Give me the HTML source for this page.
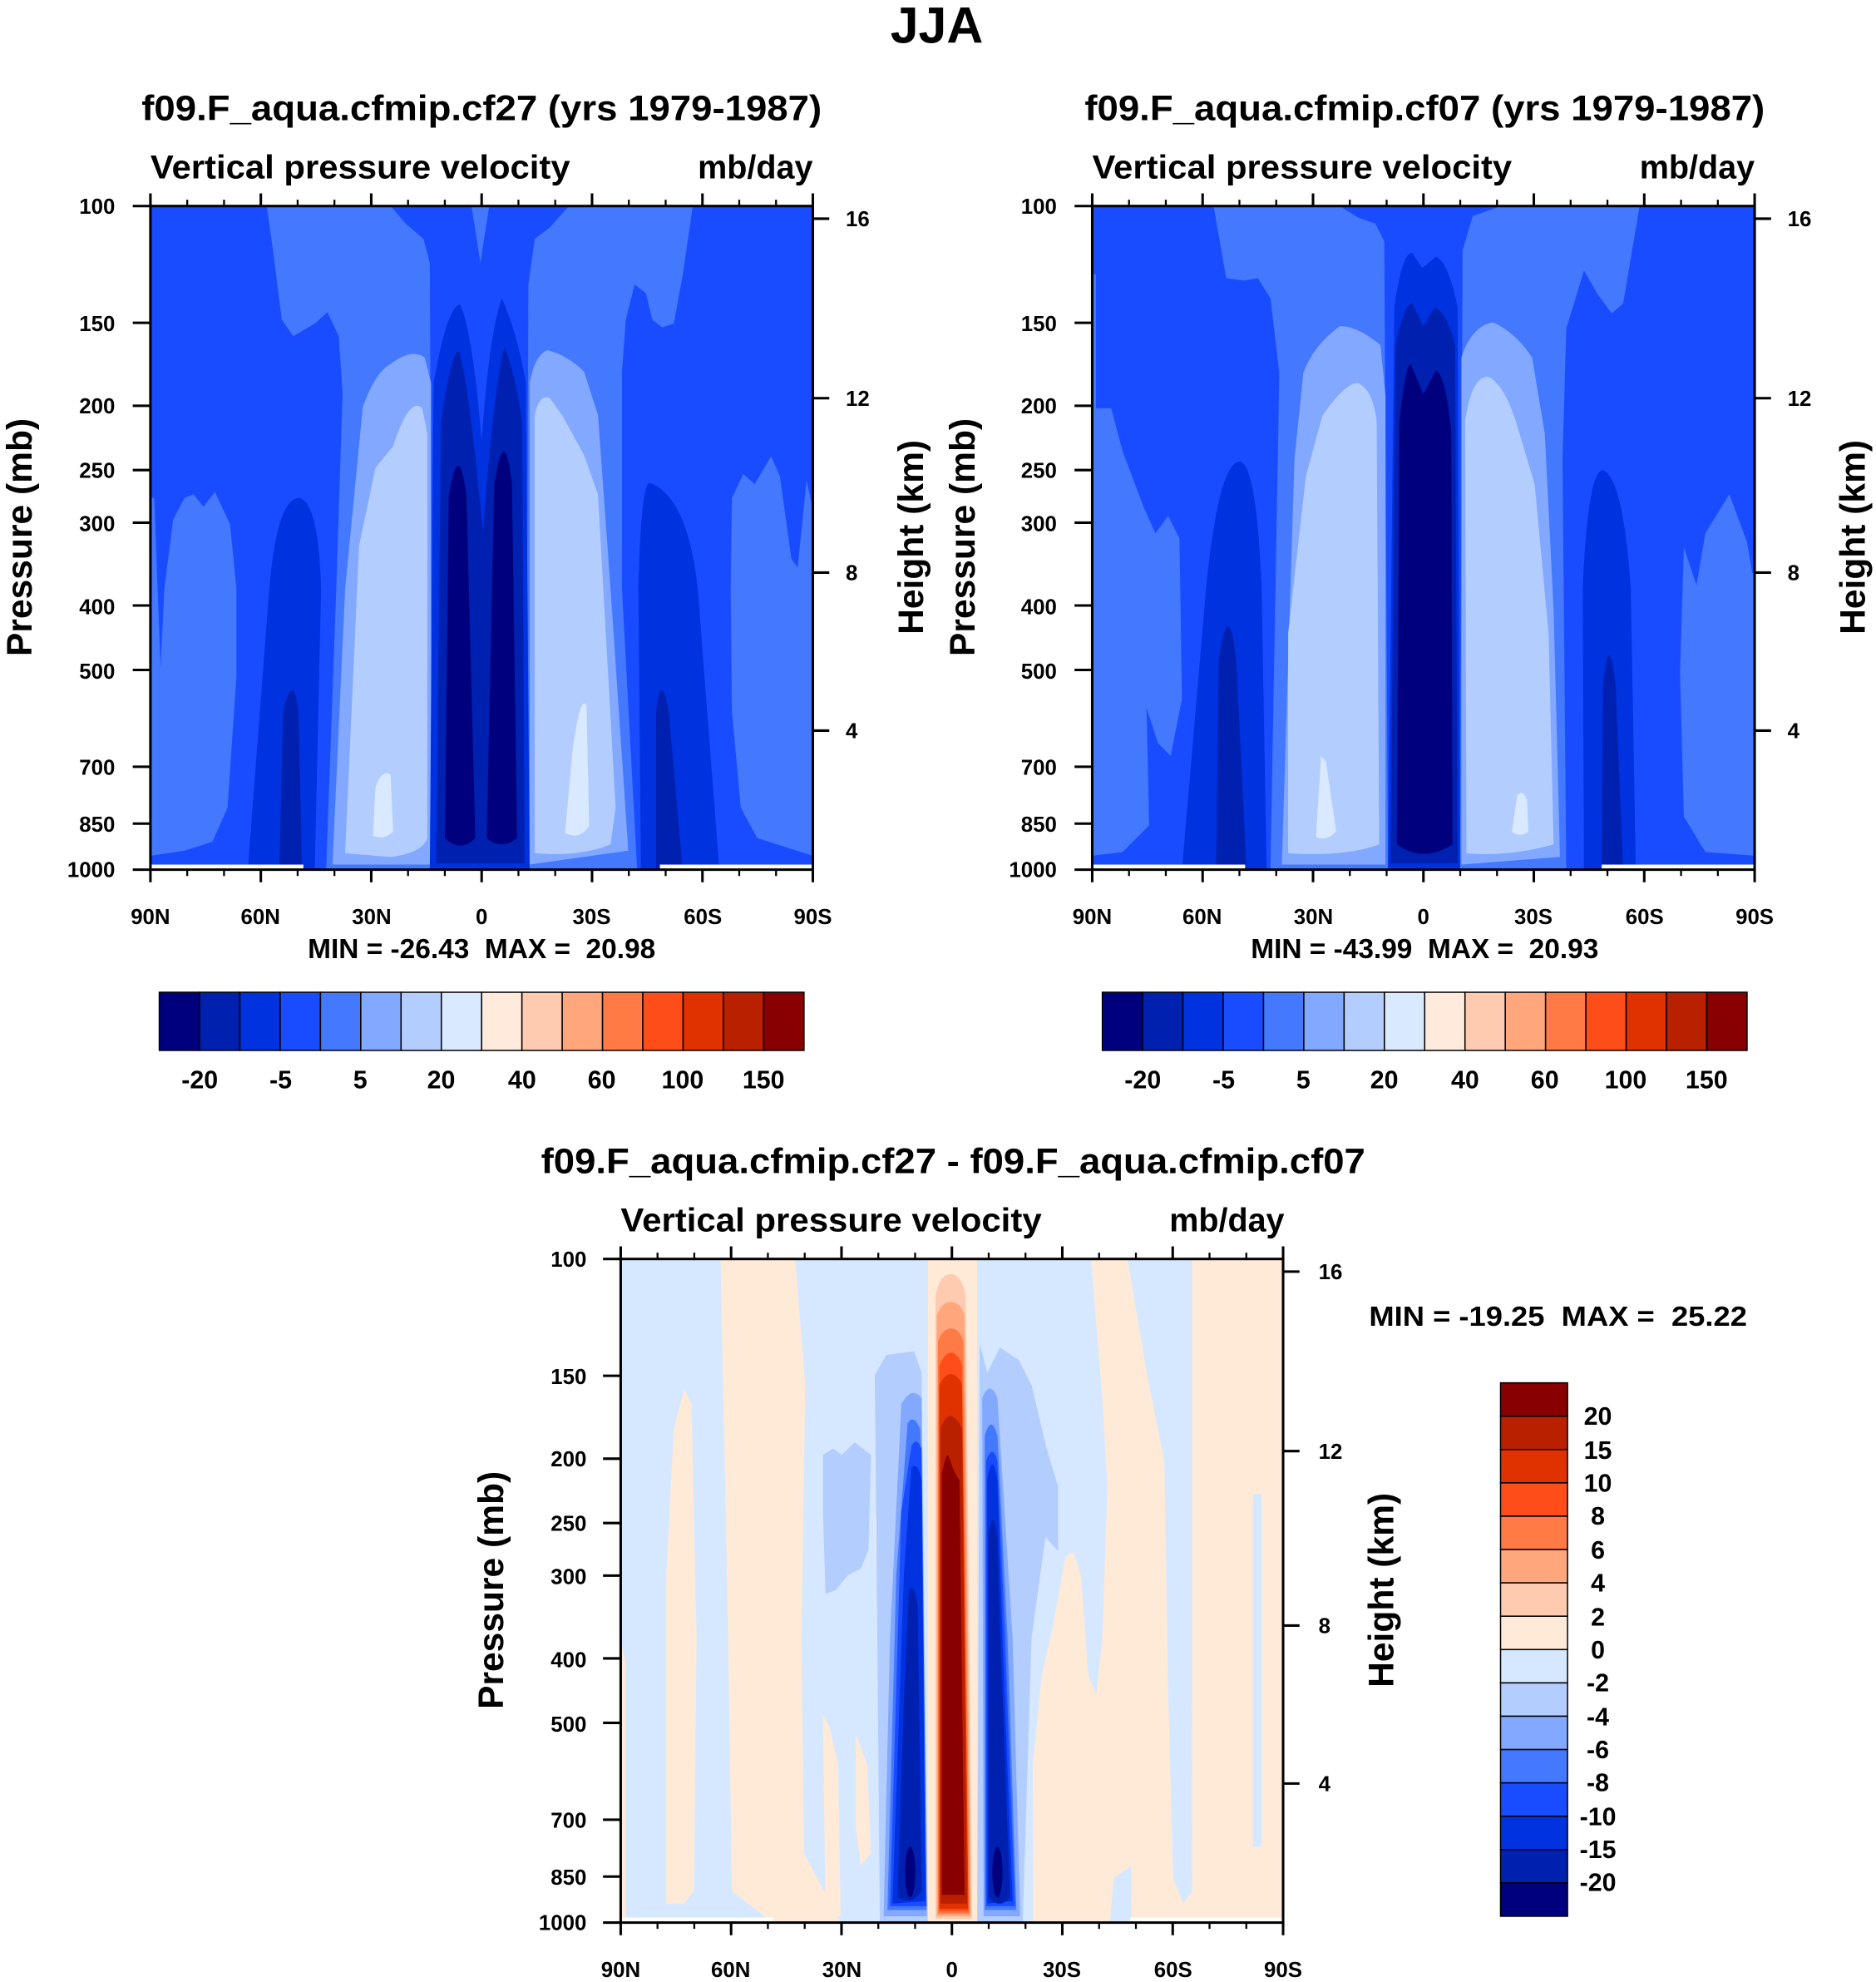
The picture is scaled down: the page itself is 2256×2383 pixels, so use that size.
<!DOCTYPE html>
<html><head><meta charset="utf-8"><style>
html,body{margin:0;padding:0;background:#fff;}
svg{display:block;}
text{font-family:"Liberation Sans",Arial,sans-serif;font-weight:bold;fill:#000;}
</style></head><body>
<svg width="2256" height="2383" viewBox="0 0 1484 1568" preserveAspectRatio="none" xmlns="http://www.w3.org/2000/svg">
<defs>
<clipPath id="cp"><rect x="0" y="0" width="524" height="525"/></clipPath>
<g id="ax" fill="none" stroke="#000">
<rect x="0" y="0" width="524" height="525" stroke-width="2"/>
<path stroke-width="2" d="M0 0V-10M87.33 0V-10M174.67 0V-10M262 0V-10M349.33 0V-10M436.67 0V-10M524 0V-10M0 525V535M87.33 525V535M174.67 525V535M262 525V535M349.33 525V535M436.67 525V535M524 525V535"/>
<path stroke-width="1.5" d="M29.11 0V-5M58.22 0V-5M116.44 0V-5M145.56 0V-5M203.78 0V-5M232.89 0V-5M291.11 0V-5M320.22 0V-5M378.44 0V-5M407.56 0V-5M465.78 0V-5M494.89 0V-5M29.11 525V530M58.22 525V530M116.44 525V530M145.56 525V530M203.78 525V530M232.89 525V530M291.11 525V530M320.22 525V530M378.44 525V530M407.56 525V530M465.78 525V530M494.89 525V530"/>
<path stroke-width="2" d="M-14 0H0M-14 92.4H0M-14 158H0M-14 208.9H0M-14 250.5H0M-14 316H0M-14 367H0M-14 443.6H0M-14 488.6H0M-14 525H0M524 10H537M524 152H537M524 290H537M524 415H537"/>
</g>
</defs>

<text x="741" y="34" font-size="40" text-anchor="middle">JJA</text>

<!-- ============ PANEL 1 ============ -->
<text x="381" y="95" font-size="28" text-anchor="middle" textLength="538" lengthAdjust="spacingAndGlyphs">f09.F_aqua.cfmip.cf27 (yrs 1979-1987)</text>
<text x="119" y="141" font-size="26" textLength="332" lengthAdjust="spacingAndGlyphs">Vertical pressure velocity</text>
<text x="643" y="141" font-size="26" text-anchor="end">mb/day</text>
<g transform="translate(119,163)">
<g clip-path="url(#cp)">
<rect x="0" y="0" width="524" height="525" fill="#1a4cff"/>
<g fill="#4478ff">
<polygon points="92,0 190,0 202,14 216,26 221,45 223,525 139,525 147,303 152,148 149,103 140,84 130,93 113,103 104,90 96,28"/>
<polygon points="331,0 429,0 421,55 414,93 405,96 397,90 392,69 383,62 376,90 373,131 373,303 385,525 297,525 299,62 304,26 316,17"/>
<polygon points="254,0 268,0 261,45"/>
<polygon points="3,231 8,365 11,303 18,248 27,231 34,228 42,238 51,226 63,252 68,303 68,372 61,476 49,503 27,510 0,514 0,231"/>
<polygon points="459,303 460,231 469,212 478,220 491,198 498,214 507,279 512,286 519,217 524,240 524,514 480,500 467,476 460,400"/>
</g>
<path fill="#0032e0" d="M77 525 L94 303 Q100 231 118 231 Q133 235 135 303 L130 525Z"/>
<path fill="#0020b0" d="M102 525 L105 400 Q113 366 117 400 L120 525Z"/>
<path fill="#0032e0" d="M388 525 L386 303 Q388 219 395 219 Q425 230 433 303 L450 525Z"/>
<path fill="#0020b0" d="M400 525 L400 400 Q404 366 410 400 L421 525Z"/>
<path fill="#82a8ff" d="M144 521 L154 303 L168 159 Q178 131 190 125 Q207 112 217 120 L222 140 L222 521Z"/>
<path fill="#b4cdff" d="M154 512 L165 269 L178 207 L192 190 Q205 150 215 160 L219 180 L219 500 Q215 512 190 515Z"/>
<path fill="#d9e9ff" d="M176 498 L178 460 Q183 445 190 450 L192 495 Q185 502 176 498Z"/>
<path fill="#82a8ff" d="M300 521 L300 140 Q304 118 314 114 Q330 118 343 131 L354 165 L364 303 L378 510 L300 521Z"/>
<path fill="#b4cdff" d="M304 512 L304 165 Q308 148 316 152 L326 166 L343 197 L354 228 L368 476 L364 505 Q340 515 304 512Z"/>
<path fill="#d9e9ff" d="M328 496 L334 430 Q340 386 345 395 L347 490 Q340 502 328 496Z"/>
<path fill="#0032e0" d="M221 525 L224 140 Q235 78 245 78 Q255 100 262 186 Q268 100 278 73 Q290 100 297 140 L300 525Z"/>
<path fill="#0020b0" d="M226 520 L230 170 Q238 115 244 115 Q252 140 263 259 Q272 140 280 112 Q288 130 294 170 L296 520Z"/>
<path fill="#00007f" d="M233 500 L236 230 Q244 181 250 230 L257 500 Q245 512 233 500Z"/>
<path fill="#00007f" d="M266 500 L272 220 Q280 169 286 220 L290 500 Q278 510 266 500Z"/>
<rect x="0" y="521" width="121" height="4" fill="#fff"/>
<rect x="403" y="521" width="121" height="4" fill="#fff"/>
</g>
<use href="#ax"/>
</g>
<g font-size="17" text-anchor="end">
<text x="91" y="169">100</text><text x="91" y="262">150</text><text x="91" y="327">200</text><text x="91" y="378">250</text><text x="91" y="420">300</text><text x="91" y="486">400</text><text x="91" y="537">500</text><text x="91" y="613">700</text><text x="91" y="658">850</text><text x="91" y="694">1000</text>
</g>
<g font-size="17"><text x="669" y="179">16</text><text x="669" y="321">12</text><text x="669" y="459">8</text><text x="669" y="584">4</text></g>
<g font-size="17" text-anchor="middle"><text x="119" y="731">90N</text><text x="206" y="731">60N</text><text x="294" y="731">30N</text><text x="381" y="731">0</text><text x="468" y="731">30S</text><text x="556" y="731">60S</text><text x="643" y="731">90S</text></g>
<text x="381" y="758" font-size="22" text-anchor="middle" xml:space="preserve">MIN = -26.43  MAX =  20.98</text>
<text transform="translate(25,425) rotate(-90)" font-size="28" text-anchor="middle">Pressure (mb)</text>
<text transform="translate(730,425) rotate(-90)" font-size="28" text-anchor="middle">Height (km)</text>

<!-- ============ PANEL 2 ============ -->
<text x="1127" y="95" font-size="28" text-anchor="middle" textLength="538" lengthAdjust="spacingAndGlyphs">f09.F_aqua.cfmip.cf07 (yrs 1979-1987)</text>
<text x="864" y="141" font-size="26" textLength="332" lengthAdjust="spacingAndGlyphs">Vertical pressure velocity</text>
<text x="1388" y="141" font-size="26" text-anchor="end">mb/day</text>
<g transform="translate(864,163)">
<g clip-path="url(#cp)">
<rect x="0" y="0" width="524" height="525" fill="#1a4cff"/>
<g fill="#4478ff">
<polygon points="96,0 196,0 210,9 224,14 231,28 234,525 141,525 148,132 141,73 131,57 120,59 106,57"/>
<polygon points="323,0 433,0 420,77 411,85 400,70 389,51 375,97 372,200 375,525 291,525 293,35 301,8"/>
<polygon points="2,160 15,160 24,194 41,239 50,259 60,245 69,263 71,390 62,435 52,425 43,397 45,490 24,511 0,514 0,160"/>
<polygon points="0,54 3,54 3,160 0,160"/>
<polygon points="468,270 478,300 485,259 504,228 518,266 522,290 524,290 524,514 485,511 468,483 465,369"/>
</g>
<path fill="#0032e0" d="M71 525 L90 303 Q100 202 117 202 Q130 205 134 303 L138 525Z"/>
<path fill="#0020b0" d="M98 525 L100 360 Q108 305 114 360 L122 525Z"/>
<path fill="#0032e0" d="M389 525 L388 303 Q392 209 404 209 Q420 215 426 303 L430 525Z"/>
<path fill="#0020b0" d="M403 525 L404 380 Q409 331 414 380 L420 525Z"/>
<path fill="#82a8ff" d="M150 521 L160 200 L167 132 Q175 110 196 95 Q210 95 228 110 L232 150 L232 521Z"/>
<path fill="#b4cdff" d="M155 512 L155 338 L169 214 L182 166 Q200 140 210 140 Q222 145 225 170 L227 505 Q200 515 155 512Z"/>
<path fill="#d9e9ff" d="M177 499 L181 435 L185 440 L193 495 Q185 503 177 499Z"/>
<path fill="#82a8ff" d="M292 521 L292 120 Q300 95 317 92 Q335 100 348 120 L358 180 L365 320 L370 515Z"/>
<path fill="#b4cdff" d="M296 512 L295 170 Q300 135 313 135 Q325 140 335 170 L350 220 L361 338 L365 505 Q330 515 296 512Z"/>
<path fill="#d9e9ff" d="M332 495 L336 467 Q340 460 344 470 L345 495 Q338 500 332 495Z"/>
<path fill="#0032e0" d="M234 525 L239 80 Q245 37 253 37 L261 49 L272 40 Q282 45 289 80 L291 525Z"/>
<path fill="#0020b0" d="M236 520 L240 110 Q247 77 253 77 L262 95 L271 80 Q281 85 287 110 L289 520Z"/>
<path fill="#00007f" d="M241 505 L243 170 Q248 125 252 125 L262 149 L272 130 Q280 135 284 180 L285 505 Q262 520 241 505Z"/>
<rect x="0" y="521" width="121" height="4" fill="#fff"/>
<rect x="403" y="521" width="121" height="4" fill="#fff"/>
</g>
<use href="#ax"/>
</g>
<g font-size="17" text-anchor="end">
<text x="836" y="169">100</text><text x="836" y="262">150</text><text x="836" y="327">200</text><text x="836" y="378">250</text><text x="836" y="420">300</text><text x="836" y="486">400</text><text x="836" y="537">500</text><text x="836" y="613">700</text><text x="836" y="658">850</text><text x="836" y="694">1000</text>
</g>
<g font-size="17"><text x="1414" y="179">16</text><text x="1414" y="321">12</text><text x="1414" y="459">8</text><text x="1414" y="584">4</text></g>
<g font-size="17" text-anchor="middle"><text x="864" y="731">90N</text><text x="951" y="731">60N</text><text x="1039" y="731">30N</text><text x="1126" y="731">0</text><text x="1213" y="731">30S</text><text x="1301" y="731">60S</text><text x="1388" y="731">90S</text></g>
<text x="1127" y="758" font-size="22" text-anchor="middle" xml:space="preserve">MIN = -43.99  MAX =  20.93</text>
<text transform="translate(771,425) rotate(-90)" font-size="28" text-anchor="middle">Pressure (mb)</text>
<text transform="translate(1475,425) rotate(-90)" font-size="28" text-anchor="middle">Height (km)</text>

<!-- horizontal colorbars -->
<g stroke="#000" stroke-width="1">
<g id="cbh">
<rect x="126" y="785" width="31.875" height="46" fill="#00007f"/>
<rect x="157.875" y="785" width="31.875" height="46" fill="#0020b0"/>
<rect x="189.75" y="785" width="31.875" height="46" fill="#0032e0"/>
<rect x="221.625" y="785" width="31.875" height="46" fill="#1a4cff"/>
<rect x="253.5" y="785" width="31.875" height="46" fill="#4478ff"/>
<rect x="285.375" y="785" width="31.875" height="46" fill="#82a8ff"/>
<rect x="317.25" y="785" width="31.875" height="46" fill="#b4cdff"/>
<rect x="349.125" y="785" width="31.875" height="46" fill="#d9e9ff"/>
<rect x="381" y="785" width="31.875" height="46" fill="#ffeadb"/>
<rect x="412.875" y="785" width="31.875" height="46" fill="#ffcbb0"/>
<rect x="444.75" y="785" width="31.875" height="46" fill="#ffa67c"/>
<rect x="476.625" y="785" width="31.875" height="46" fill="#ff7a45"/>
<rect x="508.5" y="785" width="31.875" height="46" fill="#ff4d1a"/>
<rect x="540.375" y="785" width="31.875" height="46" fill="#e03200"/>
<rect x="572.25" y="785" width="31.875" height="46" fill="#b82000"/>
<rect x="604.125" y="785" width="31.875" height="46" fill="#880000"/>
</g>
<use href="#cbh" transform="translate(746,0)"/>
</g>
<g font-size="20" text-anchor="middle">
<text x="158" y="861">-20</text><text x="222" y="861">-5</text><text x="285" y="861">5</text><text x="349" y="861">20</text><text x="413" y="861">40</text><text x="476" y="861">60</text><text x="540" y="861">100</text><text x="604" y="861">150</text>
<text x="904" y="861">-20</text><text x="968" y="861">-5</text><text x="1031" y="861">5</text><text x="1095" y="861">20</text><text x="1159" y="861">40</text><text x="1222" y="861">60</text><text x="1286" y="861">100</text><text x="1350" y="861">150</text>
</g>

<!-- ============ PANEL 3 ============ -->
<text x="754" y="928" font-size="28" text-anchor="middle" textLength="652" lengthAdjust="spacingAndGlyphs">f09.F_aqua.cfmip.cf27 - f09.F_aqua.cfmip.cf07</text>
<text x="491" y="974" font-size="26" textLength="333" lengthAdjust="spacingAndGlyphs">Vertical pressure velocity</text>
<text x="1016" y="974" font-size="26" text-anchor="end">mb/day</text>
<g transform="translate(491,996)">
<g clip-path="url(#cp)">
<rect x="0" y="0" width="524" height="525" fill="#d6e8ff"/>
<g fill="#ffead8">
<polygon points="79,0 138,0 146,100 143,300 145,470 174,525 120,525 88,500 85,300"/>
<polygon points="36,510 36,250 42,135 50,103 56,115 60,300 58,500 50,510"/>
<polygon points="0,300 4,320 4,525 0,525"/>
<polygon points="372,0 524,0 524,525 326,525 326,400 333,330 342,290 352,235 358,232 364,250 370,330 376,345 381,300 385,180 381,110"/>
<polygon points="201,205 207,195 213,205 215,320 205,320"/>
<polygon points="160,360 165,370 172,400 174,520 162,520"/>
<polygon points="186,376 195,400 198,470 190,480 186,450"/>
</g>
<g fill="#d6e8ff">
<polygon points="401,0 452,0 452,500 445,510 437,490 433,340 430,160 416,90"/>
<rect x="500" y="186" width="7" height="279"/>
<polygon points="387,525 390,490 404,480 404,525"/>
</g>
<g fill="#b4cdff">
<path d="M205 525 L203 300 L201 92 L210 76 L232 73 L238 90 L243 525Z"/>
<path d="M282 525 L284 67 L290 90 L300 70 L315 80 L325 100 L337 150 L346 180 L346 231 L336 220 L325 300 L318 525Z"/>
<polygon points="160,155 168,150 175,155 185,145 198,155 196,230 190,245 180,250 170,262 162,265 160,200"/>
</g>
<rect x="243" y="0" width="39" height="525" fill="#ffead8"/>
<path fill="#82a8ff" d="M208 520 L213 300 L222 115 Q230 100 238 110 L242 520Z"/>
<path fill="#4478ff" d="M211 515 L218 250 L227 130 Q232 122 237 135 L242 515Z"/>
<path fill="#1a4cff" d="M213 512 L222 200 L230 148 Q234 140 238 150 L242 512Z"/>
<path fill="#0032e0" d="M215 510 L224 250 L230 165 Q235 160 238 175 L241 508Z"/>
<path fill="#0020b0" d="M219 505 L224 350 L228 262 Q232 255 235 275 L238 500 Q230 512 219 505Z"/>
<ellipse cx="229" cy="485" rx="4" ry="20" fill="#00007f"/>
<path fill="#82a8ff" d="M287 520 L286 110 Q292 95 298 110 L310 300 L316 520Z"/>
<path fill="#4478ff" d="M288 515 L288 140 Q293 122 298 140 L306 300 L313 515Z"/>
<path fill="#1a4cff" d="M289 512 L289 160 Q294 145 298 160 L304 300 L312 512Z"/>
<path fill="#0032e0" d="M290 510 L290 175 Q294 150 298 175 L302 300 L310 508Z"/>
<path fill="#0020b0" d="M291 505 L291 220 Q294 193 298 220 L301 320 L308 505 Q300 515 291 505Z"/>
<ellipse cx="298" cy="485" rx="4" ry="20" fill="#00007f"/>
<path fill="#ffcbb0" d="M249 522 L249 30 Q252 12 261 12 Q270 12 273 30 L278 522Z"/>
<path fill="#ffa67c" d="M250 520 L250 45 Q254 34 261 34 Q269 34 272 45 L277 520Z"/>
<path fill="#ff7a45" d="M251 518 L251 65 Q255 55 261 55 Q268 55 271 65 L276 518Z"/>
<path fill="#ff4d1a" d="M252 516 L252 85 Q256 74 262 74 Q268 76 270 85 L275 516Z"/>
<path fill="#e03200" d="M252 514 L252 100 Q256 91 262 91 Q268 93 270 100 L275 514Z"/>
<path fill="#b82000" d="M253 510 L253 135 Q256 124 262 124 Q268 128 270 135 L274 510Z"/>
<path fill="#880000" d="M254 503 L254 170 Q257 155 259 155 Q264 170 268 175 L272 503Z"/>
<rect x="0" y="521" width="121" height="4" fill="#fff"/>
<rect x="403" y="521" width="121" height="4" fill="#fff"/>
</g>
<use href="#ax"/>
</g>
<g font-size="17" text-anchor="end">
<text x="464" y="1002">100</text><text x="464" y="1095">150</text><text x="464" y="1160">200</text><text x="464" y="1211">250</text><text x="464" y="1253">300</text><text x="464" y="1319">400</text><text x="464" y="1370">500</text><text x="464" y="1446">700</text><text x="464" y="1491">850</text><text x="464" y="1527">1000</text>
</g>
<g font-size="17"><text x="1043" y="1012">16</text><text x="1043" y="1154">12</text><text x="1043" y="1292">8</text><text x="1043" y="1417">4</text></g>
<g font-size="17" text-anchor="middle"><text x="491" y="1564">90N</text><text x="578" y="1564">60N</text><text x="666" y="1564">30N</text><text x="753" y="1564">0</text><text x="840" y="1564">30S</text><text x="928" y="1564">60S</text><text x="1015" y="1564">90S</text></g>
<text x="1083" y="1049" font-size="22" textLength="299" lengthAdjust="spacingAndGlyphs" xml:space="preserve">MIN = -19.25  MAX =  25.22</text>
<text transform="translate(398,1258) rotate(-90)" font-size="28" text-anchor="middle">Pressure (mb)</text>
<text transform="translate(1102,1258) rotate(-90)" font-size="28" text-anchor="middle">Height (km)</text>

<!-- vertical colorbar -->
<g stroke="#000" stroke-width="1">
<rect x="1187" y="1094" width="53" height="26.375" fill="#880000"/>
<rect x="1187" y="1120.375" width="53" height="26.375" fill="#b82000"/>
<rect x="1187" y="1146.75" width="53" height="26.375" fill="#e03200"/>
<rect x="1187" y="1173.125" width="53" height="26.375" fill="#ff4d1a"/>
<rect x="1187" y="1199.5" width="53" height="26.375" fill="#ff7a45"/>
<rect x="1187" y="1225.875" width="53" height="26.375" fill="#ffa67c"/>
<rect x="1187" y="1252.25" width="53" height="26.375" fill="#ffcbb0"/>
<rect x="1187" y="1278.625" width="53" height="26.375" fill="#ffead8"/>
<rect x="1187" y="1305" width="53" height="26.375" fill="#d6e8ff"/>
<rect x="1187" y="1331.375" width="53" height="26.375" fill="#b4cdff"/>
<rect x="1187" y="1357.75" width="53" height="26.375" fill="#82a8ff"/>
<rect x="1187" y="1384.125" width="53" height="26.375" fill="#4478ff"/>
<rect x="1187" y="1410.5" width="53" height="26.375" fill="#1a4cff"/>
<rect x="1187" y="1436.875" width="53" height="26.375" fill="#0032e0"/>
<rect x="1187" y="1463.25" width="53" height="26.375" fill="#0020b0"/>
<rect x="1187" y="1489.625" width="53" height="26.375" fill="#00007f"/>
</g>
<g font-size="20" text-anchor="middle">
<text x="1264" y="1127">20</text><text x="1264" y="1154">15</text><text x="1264" y="1180">10</text><text x="1264" y="1206">8</text><text x="1264" y="1233">6</text><text x="1264" y="1259">4</text><text x="1264" y="1286">2</text><text x="1264" y="1312">0</text><text x="1264" y="1338">-2</text><text x="1264" y="1365">-4</text><text x="1264" y="1391">-6</text><text x="1264" y="1417">-8</text><text x="1264" y="1444">-10</text><text x="1264" y="1470">-15</text><text x="1264" y="1496">-20</text>
</g>
</svg>
</body></html>
